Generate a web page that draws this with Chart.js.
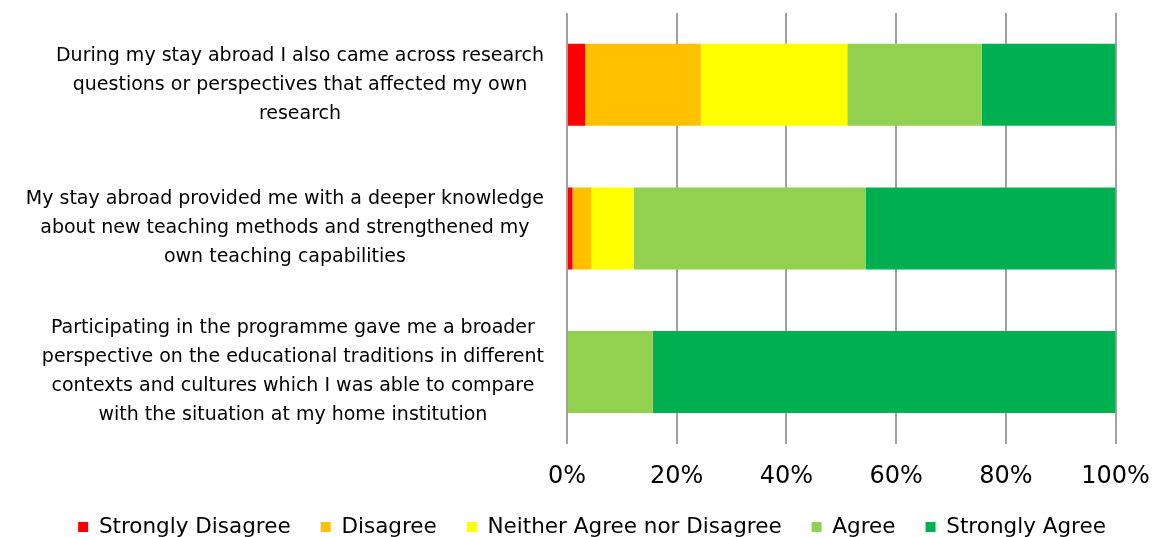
<!DOCTYPE html>
<html><head><meta charset="utf-8">
<script src="https://cdn.jsdelivr.net/npm/chart.js@4/dist/chart.umd.min.js"></script>
<style>html,body{margin:0;padding:0;background:#fff}canvas{display:block}</style>
</head><body>
<canvas id="c" width="1160" height="537"></canvas>
<script>
const categories = [
  ["During my stay abroad I also came across research", "questions or perspectives that affected my own", "research"],
  ["My stay abroad provided me with a deeper knowledge", "about new teaching methods and strengthened my", "own teaching capabilities"],
  ["Participating in the programme gave me a broader", "perspective on the educational traditions in different", "contexts and cultures which I was able to compare", "with the situation at my home institution"]
];
const seriesNames = ["Strongly Disagree", "Disagree", "Neither Agree nor Disagree", "Agree", "Strongly Agree"];
const stronglyDisagree = [3.3, 1.0, 0];
const disagree = [21.1, 3.4, 0];
const neitherAgreeNorDisagree = [26.7, 7.8, 0];
const agree = [24.5, 42.3, 15.6];
const stronglyAgree = [24.4, 45.5, 84.4];
const tickLabels = ["0%", "20%", "40%", "60%", "80%", "100%"];
const seriesColors = ["#FF0000", "#FFC000", "#FFFF00", "#92D050", "#00B050"];

const FONT = "'DejaVu Sans', Verdana, sans-serif";
const allSeries = [stronglyDisagree, disagree, neitherAgreeNorDisagree, agree, stronglyAgree];
const PAD_LEFT = 24;

const catLabelPlugin = {
  id: 'catLabels',
  afterDraw(chart) {
    const ctx = chart.ctx;
    const y = chart.scales.y;
    ctx.save();
    ctx.font = "19px " + FONT;
    ctx.fillStyle = "#000";
    ctx.textAlign = "center";
    ctx.textBaseline = "middle";
    const lh = 29;
    const rightEdge = 544;
    categories.forEach((lines, i) => {
      const cy = y.getPixelForValue(i);
      let maxW = 0;
      lines.forEach(l => { maxW = Math.max(maxW, ctx.measureText(l).width); });
      const cx = rightEdge - maxW / 2;
      const start = cy - (lines.length - 1) * lh / 2;
      lines.forEach((l, k) => ctx.fillText(l, cx, start + k * lh));
    });
    ctx.restore();
  }
};

new Chart(document.getElementById('c'), {
  type: 'bar',
  data: {
    labels: categories.map(c => c.join(' ')),
    datasets: seriesNames.map((n, i) => ({
      label: n,
      data: allSeries[i],
      backgroundColor: seriesColors[i],
      borderWidth: 0,
      barPercentage: 0.571,
      categoryPercentage: 1.0
    }))
  },
  options: {
    indexAxis: 'y',
    responsive: false,
    animation: false,
    layout: { padding: { top: 13, right: 0, left: PAD_LEFT, bottom: -10.75 } },
    scales: {
      x: {
        stacked: true,
        min: 0, max: 100,
        ticks: {
          stepSize: 20,
          padding: 19,
          color: "#000",
          font: { family: FONT, size: 24 },
          callback: (v) => tickLabels[Math.round(v / 20)]
        },
        grid: { color: "#a0a0a0", lineWidth: 2, drawTicks: false },
        border: { display: false },
        afterFit: (s) => { s.height = 42.45; s.paddingLeft = 0; s.paddingRight = 0; }
      },
      y: {
        stacked: true,
        ticks: { display: false },
        grid: { display: false },
        border: { display: false },
        afterFit: (s) => { s.width = 567 - PAD_LEFT; }
      },
      yRight: {
        type: 'category',
        position: 'right',
        ticks: { display: false },
        grid: { display: false },
        border: { display: false },
        afterFit: (s) => { s.width = 44.5; }
      }
    },
    plugins: {
      legend: {
        position: 'bottom',
        labels: {
          boxWidth: 10, boxHeight: 10,
          padding: 30,
          color: "#000",
          font: { family: FONT, size: 21.5 }
        }
      },
      tooltip: { enabled: false }
    }
  },
  plugins: [catLabelPlugin]
});
</script>
</body></html>
